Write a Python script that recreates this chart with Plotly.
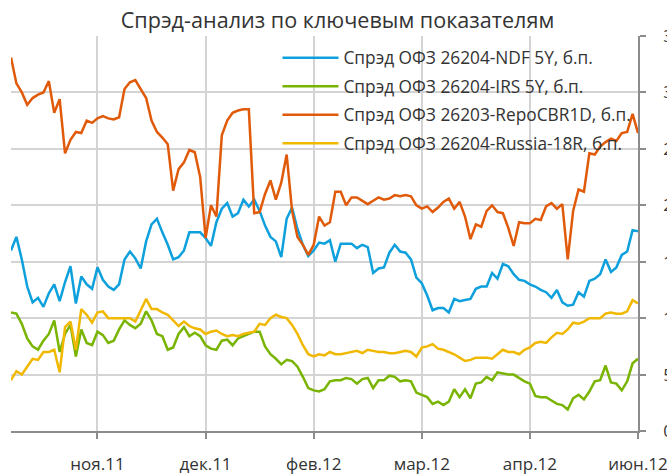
import plotly.graph_objects as go

# Spread values, bp
ndf_5y = [160, 172, 152, 128, 114, 118, 110, 122, 130, 115, 132, 146, 113, 137, 130, 126, 145, 134, 128, 125,
          130, 152, 159, 153, 144, 168, 183, 188, 176, 165, 152, 154, 160, 176, 176, 176, 171, 164, 185, 197,
          202, 190, 193, 205, 199, 205, 195, 182, 172, 168, 154, 188, 198, 179, 165, 155, 160, 167, 166, 169,
          150, 166, 166, 166, 162, 165, 163, 140, 144, 145, 158, 165, 159, 158, 152, 136, 131, 120, 107, 109,
          109, 105, 117, 115, 116, 117, 126, 128, 128, 140, 135, 148, 146, 139, 134, 133, 130, 128, 125, 123,
          118, 125, 114, 111, 112, 123, 119, 133, 135, 139, 152, 141, 145, 156, 159, 178, 177]

irs_5y = [105, 104, 95, 82, 75, 72, 80, 86, 98, 70, 86, 94, 66, 90, 78, 76, 88, 85, 78, 80,
          90, 98, 94, 91, 95, 106, 98, 86, 84, 72, 74, 86, 92, 84, 87, 84, 76, 73, 72, 80,
          81, 76, 82, 84, 86, 88, 88, 75, 68, 64, 59, 63, 62, 57, 48, 38, 36, 35, 37, 44,
          45, 45, 47, 46, 42, 46, 47, 38, 45, 45, 49, 48, 44, 45, 44, 34, 32, 30, 24, 26,
          23, 26, 37, 30, 37, 29, 42, 43, 48, 45, 52, 51, 50, 50, 47, 44, 42, 31, 30, 30,
          27, 24, 23, 19, 29, 32, 28, 35, 44, 45, 58, 43, 42, 36, 44, 60, 64]

repo_1d = [331, 308, 300, 289, 295, 298, 300, 310, 282, 294, 246, 258, 265, 264, 275, 273, 277, 279, 277, 276,
           278, 303, 309, 311, 303, 295, 275, 265, 260, 254, 213, 232, 238, 249, 247, 225, 171, 200, 190, 262,
           275, 282, 284, 285, 285, 193, 194, 210, 222, 205, 220, 245, 195, 172, 165, 156, 165, 190, 182, 185,
           212, 212, 200, 207, 207, 204, 201, 204, 207, 205, 206, 209, 208, 209, 208, 200, 197, 199, 194, 198,
           203, 206, 197, 203, 190, 170, 183, 181, 195, 200, 194, 193, 180, 164, 185, 184, 184, 188, 187, 199,
           202, 197, 201, 152, 195, 214, 212, 246, 245, 252, 256, 259, 257, 264, 265, 281, 264]

russia_18r = [45, 53, 50, 57, 64, 63, 70, 70, 72, 52, 92, 97, 72, 108, 103, 96, 105, 106, 100, 100,
              100, 100, 100, 97, 107, 117, 108, 108, 105, 103, 98, 93, 97, 93, 91, 90, 86, 88, 89, 86,
              84, 85, 84, 86, 87, 88, 95, 94, 100, 103, 101, 100, 94, 86, 76, 68, 66, 68, 67, 70,
              68, 68, 69, 70, 71, 69, 72, 71, 70, 70, 69, 69, 70, 71, 70, 66, 74, 75, 77, 73,
              72, 70, 68, 65, 62, 63, 65, 65, 65, 64, 68, 72, 70, 70, 68, 72, 74, 78, 79, 78,
              83, 87, 86, 90, 96, 95, 97, 100, 100, 100, 104, 105, 104, 104, 106, 116, 113]

series_names = ["Спрэд ОФЗ 26204-NDF 5Y, б.п.",
                "Спрэд ОФЗ 26204-IRS 5Y, б.п.",
                "Спрэд ОФЗ 26203-RepoCBR1D, б.п.",
                "Спрэд ОФЗ 26204-Russia-18R, б.п."]
series_colors = ["#0ea0dc", "#78b400", "#e05a0a", "#f0b800"]

tick_positions = [16, 36, 56, 76, 96, 116]
tick_labels = ["ноя.11", "дек.11", "фев.12", "мар.12", "апр.12", "июн.12"]
y_ticks = [0, 50, 100, 150, 200, 250, 300, 350]

x_index = list(range(len(ndf_5y)))

FONT = "Open Sans"
TXT = "#333333"

fig = go.Figure()
for name, vals, col in zip(series_names, [ndf_5y, irs_5y, repo_1d, russia_18r], series_colors):
    fig.add_trace(go.Scatter(x=x_index, y=vals, mode="lines", name=name, legendgroup=name,
                             line=dict(color=col, width=2.5)))

fig.update_layout(
    width=667, height=475,
    margin=dict(l=11, r=29, t=36, b=44, autoexpand=False),
    paper_bgcolor="white", plot_bgcolor="white",
    font=dict(family=FONT, size=15, color=TXT),
    title=dict(text="Спрэд-анализ по ключевым показателям", x=0.506, xanchor="center",
               y=0.958, yanchor="middle", yref="container", automargin=False,
               font=dict(family=FONT, size=21.6, color=TXT)),
    showlegend=True,
    legend=dict(x=0.425, xanchor="left", y=0.99, yanchor="top",
                bgcolor="rgba(0,0,0,0)", font=dict(family=FONT, size=17.3, color=TXT),
                tracegroupgap=3, itemwidth=56),
    xaxis=dict(range=[0, len(ndf_5y) - 1], tickmode="array", tickvals=tick_positions, ticktext=tick_labels,
               automargin=False, ticklabeloverflow="allow",
               showgrid=True, gridcolor="#d4d4d4", gridwidth=1.5,
               showline=True, linecolor="#8c8c8c", linewidth=1.5,
               ticks="outside", ticklen=6, tickcolor="#8c8c8c", tickwidth=1.5,
               ticklabelstandoff=11, zeroline=False,
               tickfont=dict(family=FONT, size=17, color=TXT)),
    yaxis=dict(range=[0, 350], side="right", tickmode="array", tickvals=y_ticks,
               automargin=False, ticklabeloverflow="allow",
               showgrid=True, gridcolor="#d4d4d4", gridwidth=1.5,
               showline=True, linecolor="#8c8c8c", linewidth=1.5,
               ticks="outside", ticklen=6, tickcolor="#8c8c8c", tickwidth=1.5,
               ticklabelstandoff=14, zeroline=False,
               tickfont=dict(family=FONT, size=17, color=TXT)),
)

fig.write_html("out.html", config={"displayModeBar": False},
               post_script="document.body.style.margin='0';document.body.style.overflow='hidden';")
